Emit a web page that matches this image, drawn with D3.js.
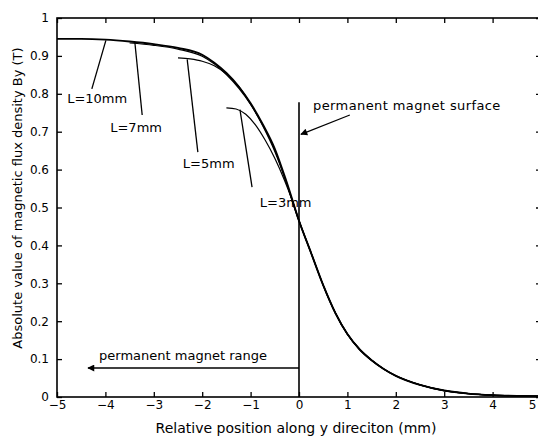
<!DOCTYPE html>
<html>
<head>
<meta charset="utf-8">
<script src="https://cdn.jsdelivr.net/npm/d3@7"></script>
<style>
  body { margin: 0; background: #fff; }
  svg { display: block; font-family: "DejaVu Sans", "Liberation Sans", Arial, sans-serif; }
</style>
</head>
<body>
<div class="svgcont"></div>
<script>
// flux density vs position

const xTicks = [-5, -4, -3, -2, -1, 0, 1, 2, 3, 4, 5];
const yTicks = [0, 0.1, 0.2, 0.3, 0.4, 0.5, 0.6, 0.7, 0.8, 0.9, 1];
const yTickLabels = ["0", "0.1", "0.2", "0.3", "0.4", "0.5", "0.6", "0.7", "0.8", "0.9", "1"];

// right of the magnet surface all four curves coincide
const xTail = [0.25, 0.5, 0.75, 1, 1.25, 1.5, 1.75, 2, 2.5, 3, 3.5, 4, 4.5, 5];
const yTail = [0.38, 0.295, 0.222, 0.166, 0.126, 0.097, 0.074, 0.056, 0.032, 0.017, 0.009, 0.005, 0.003, 0.002];

const xL10 = [-5, -4.5, -4, -3.5, -3, -2.5, -2, -1.75, -1.5, -1.25, -1, -0.75, -0.5, -0.25, 0];
const yL10 = [0.945, 0.945, 0.943, 0.938, 0.931, 0.921, 0.903, 0.882, 0.855, 0.82, 0.775, 0.72, 0.655, 0.565, 0.465];

const xL7 = [-3.5, -3, -2.5, -2, -1.5, -1, -0.5, 0];
const yL7 = [0.934, 0.928, 0.918, 0.899, 0.851, 0.772, 0.652, 0.465];

const xL5 = [-2.5, -2.25, -2, -1.75, -1.5, -1.25, -1, -0.75, -0.5, -0.25, 0];
const yL5 = [0.895, 0.892, 0.886, 0.874, 0.852, 0.82, 0.773, 0.716, 0.648, 0.562, 0.465];

const xL3 = [-1.5, -1.3, -1.1, -0.9, -0.7, -0.5, -0.3, -0.15, 0];
const yL3 = [0.763, 0.76, 0.746, 0.718, 0.678, 0.63, 0.572, 0.522, 0.465];

const seriesNames = ["L=10mm", "L=7mm", "L=5mm", "L=3mm"];

const w = 538;
const h = 440;
const padL = 57, padR = 541, padT = 18, padB = 397;

let svgCont = d3.
select(".svgcont").
append("svg").
attr("width", w).
attr("height", h);

svgCont.append("rect").attr("width", w).attr("height", h).attr("fill", "#fff");

const xScale = d3.scaleLinear().domain([-5, 5]).range([padL, padR]);
const yScale = d3.scaleLinear().domain([0, 1]).range([padB, padT]);

// frame with inward ticks on all sides
const tickLen = 5;
svgCont.
append("g").
attr("transform", `translate(0,${padB})`).
call(d3.axisBottom(xScale).tickValues(xTicks).tickSizeInner(-tickLen).tickSizeOuter(0).tickPadding(3).tickFormat(d => d < 0 ? "\u2212" + Math.abs(d) : d)).
call(g => g.select(".domain").remove()).
call(g => g.selectAll(".tick text").filter(d => d === 5).attr("text-anchor", "end").attr("dx", -5));

svgCont.
append("g").
attr("transform", `translate(0,${padT})`).
call(d3.axisTop(xScale).tickValues(xTicks).tickSizeInner(-tickLen).tickSizeOuter(0).tickFormat("")).
call(g => g.select(".domain").remove());

svgCont.
append("g").
attr("transform", `translate(${padL},0)`).
call(d3.axisLeft(yScale).tickValues(yTicks).tickSizeInner(-tickLen).tickSizeOuter(0).tickPadding(8).tickFormat((d, i) => yTickLabels[i])).
call(g => g.select(".domain").remove());

svgCont.
append("g").
attr("transform", `translate(${padR},0)`).
call(d3.axisRight(yScale).tickValues(yTicks).tickSizeInner(-tickLen).tickSizeOuter(0).tickFormat("")).
call(g => g.select(".domain").remove());

svgCont.selectAll(".tick line").attr("stroke", "#000").attr("stroke-width", 1.3);
svgCont.selectAll(".tick text").attr("fill", "#000").style("font-size", "12px").style("font-family", "DejaVu Sans");

svgCont.
append("rect").
attr("x", padL).
attr("y", padT).
attr("width", padR - padL).
attr("height", padB - padT).
attr("fill", "none").
attr("stroke", "#000").
attr("stroke-width", 1.6);

// curves
const line = d3.line().
x(d => xScale(d[0])).
y(d => yScale(d[1])).
curve(d3.curveMonotoneX);

const series = [
[xL10, yL10, 1.9],
[xL7, yL7, 1.2],
[xL5, yL5, 1.2],
[xL3, yL3, 1.2]];

series.forEach(s => {
  let xs = s[0].concat(xTail);
  let ys = s[1].concat(yTail);
  let pts = xs.map((x, i) => [x, ys[i]]);
  svgCont.
  append("path").
  datum(pts).
  attr("d", line).
  attr("fill", "none").
  attr("stroke", "#000").
  attr("stroke-width", s[2]);
});

// curve labels with leader lines (data coords)
const labelAt = [
{ tx: -4.79, ty: 0.776, x1: -4.28, y1: 0.813, x2: -3.99, y2: 0.941 },
{ tx: -3.9, ty: 0.699, x1: -3.24, y1: 0.744, x2: -3.39, y2: 0.934 },
{ tx: -2.4, ty: 0.604, x1: -2.09, y1: 0.646, x2: -2.31, y2: 0.891 },
{ tx: -0.81, ty: 0.501, x1: -0.97, y1: 0.554, x2: -1.22, y2: 0.758 }];

labelAt.forEach((a, i) => {
  svgCont.
  append("line").
  attr("x1", xScale(a.x1)).
  attr("y1", yScale(a.y1)).
  attr("x2", xScale(a.x2)).
  attr("y2", yScale(a.y2)).
  attr("stroke", "#000").
  attr("stroke-width", 1.3);
  svgCont.
  append("text").
  attr("x", xScale(a.tx)).
  attr("y", yScale(a.ty)).
  style("font-size", "13px").
  text(seriesNames[i]);
});

// arrowhead
svgCont.
append("defs").
append("marker").
attr("id", "arrow").
attr("viewBox", "0 0 10 10").
attr("refX", 9).
attr("refY", 5).
attr("markerWidth", 11).
attr("markerHeight", 7).
attr("markerUnits", "userSpaceOnUse").
attr("orient", "auto").
append("path").
attr("d", "M0,0L10,5L0,10Z").
attr("fill", "#000");

// magnet surface line
svgCont.
append("line").
attr("x1", xScale(0)).
attr("x2", xScale(0)).
attr("y1", yScale(0)).
attr("y2", yScale(0.778)).
attr("stroke", "#000").
attr("stroke-width", 1.6);

svgCont.
append("line").
attr("x1", xScale(1.05)).
attr("y1", yScale(0.744)).
attr("x2", xScale(0.04)).
attr("y2", yScale(0.693)).
attr("stroke", "#000").
attr("stroke-width", 1.2).
attr("marker-end", "url(#arrow)");

svgCont.
append("text").
attr("x", xScale(0.29)).
attr("y", yScale(0.757)).
style("font-size", "13px").
style("letter-spacing", "0.4px").
text("permanent magnet surface");

// magnet range arrow
svgCont.
append("line").
attr("x1", xScale(0)).
attr("y1", yScale(0.0765)).
attr("x2", xScale(-4.36)).
attr("y2", yScale(0.0765)).
attr("stroke", "#000").
attr("stroke-width", 1.3).
attr("marker-end", "url(#arrow)");

svgCont.
append("text").
attr("x", xScale(-4.13)).
attr("y", yScale(0.098)).
style("font-size", "13px").
text("permanent magnet range");

// axis titles
svgCont.
append("text").
attr("x", 296).
attr("y", 433).
attr("text-anchor", "middle").
style("font-size", "14px").
text("Relative position along y direciton (mm)");

svgCont.
append("text").
attr("transform", "rotate(-90)").
attr("x", -198).
attr("y", 22).
attr("text-anchor", "middle").
style("font-size", "13px").
text("Absolute value of magnetic flux density By (T)");
</script>
</body>
</html>
